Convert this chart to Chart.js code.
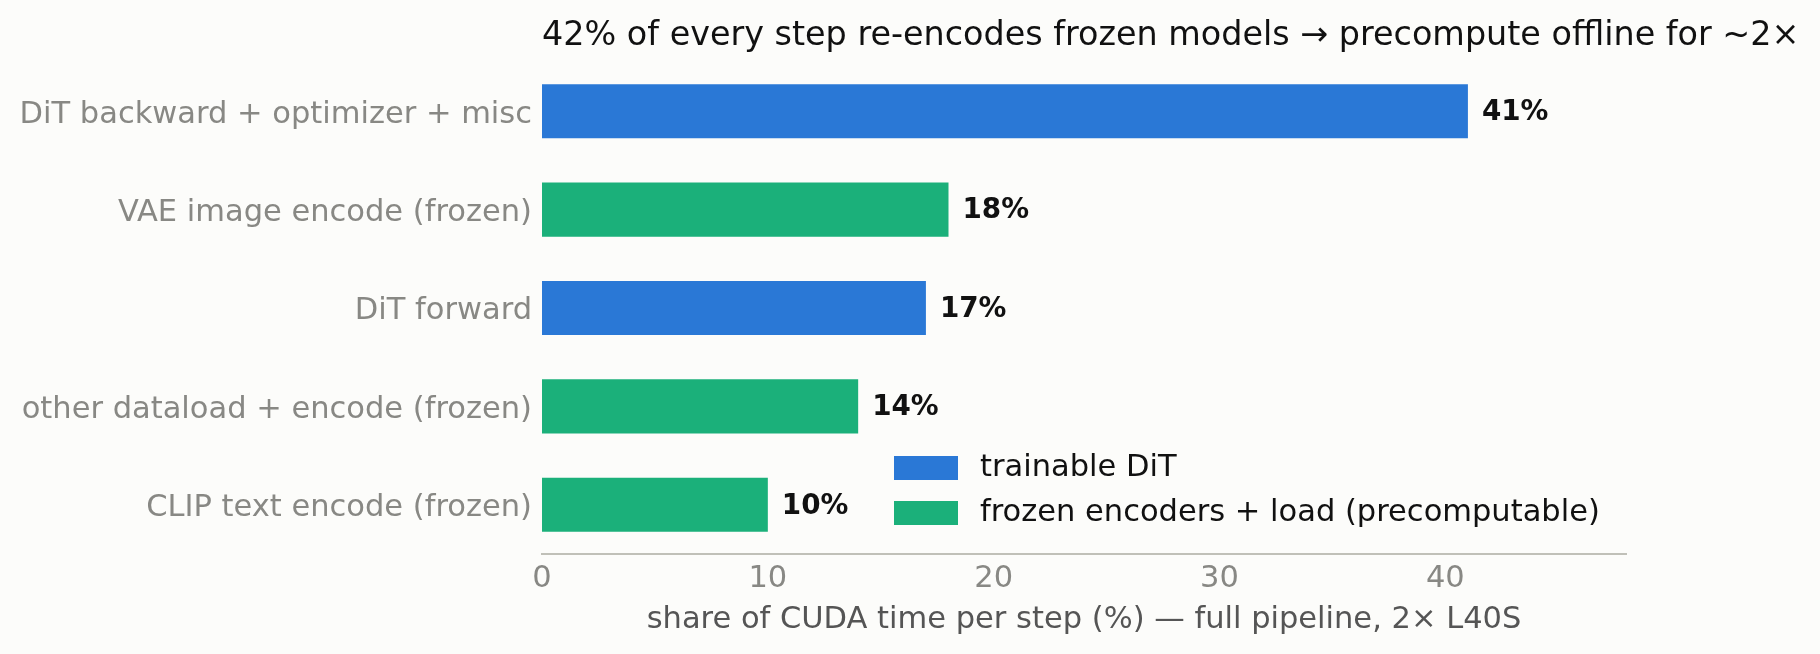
<!DOCTYPE html>
<html>
<head>
<meta charset="utf-8">
<script src="https://cdn.jsdelivr.net/npm/chart.js@4.4.1/dist/chart.umd.min.js"></script>
<style>
  html, body { margin: 0; padding: 0; background: #fcfcfa; }
  #wrap { width: 1820px; height: 654px; }
</style>
</head>
<body>
<div id="wrap"><canvas id="myChart" width="1820" height="654"></canvas></div>
<script>
const categories = [
    'DiT backward + optimizer + misc',
    'VAE image encode (frozen)',
    'DiT forward',
    'other dataload + encode (frozen)',
    'CLIP text encode (frozen)'
];
// null where the row belongs to the other group
const trainableValues = [41, null, 17, null, null];
const frozenValues = [null, 18, null, 14, 10];
const seriesNames = ['trainable DiT', 'frozen encoders + load (precomputable)'];
const xTicks = [0, 10, 20, 30, 40];

const titleText = '42% of every step re-encodes frozen models \u2192 precompute offline for ~2\u00d7';
const xTitle = 'share of CUDA time per step (%) \u2014 full pipeline, 2\u00d7 L40S';

const BLUE = '#2a78d6';
const GREEN = '#1bb07a';
const FONT = "'DejaVu Sans', sans-serif";

// title, value labels and the in-plot legend
const overlay = {
    id: 'overlay',
    afterDatasetsDraw(chart) {
        const { ctx, chartArea } = chart;
        ctx.save();

        ctx.fillStyle = '#111';
        ctx.font = '33.4px ' + FONT;
        ctx.textAlign = 'left';
        ctx.textBaseline = 'middle';
        ctx.fillText(titleText, chartArea.left, 36);

        ctx.font = 'bold 27.8px ' + FONT;
        chart.data.datasets.forEach((ds, i) => {
            const meta = chart.getDatasetMeta(i);
            meta.data.forEach((bar, j) => {
                const v = ds.data[j];
                if (v === null) return;
                ctx.fillText(v + '%', bar.x + 14, bar.y + 1.5);
            });
        });

        ctx.font = '30.5px ' + FONT;
        const lx = 894, ly = 468, gap = 45;
        chart.data.datasets.forEach((ds, i) => {
            const y = ly + i * gap;
            ctx.fillStyle = ds.backgroundColor;
            ctx.fillRect(lx, y - 12, 64, 24);
            ctx.fillStyle = '#111';
            ctx.fillText(ds.label, lx + 86, y);
        });
        ctx.restore();
    }
};

new Chart(document.getElementById('myChart'), {
    type: 'bar',
    data: {
        labels: categories,
        datasets: [
            { label: seriesNames[0], data: trainableValues, backgroundColor: BLUE },
            { label: seriesNames[1], data: frozenValues, backgroundColor: GREEN }
        ]
    },
    plugins: [overlay],
    options: {
        indexAxis: 'y',
        responsive: false,
        animation: false,
        layout: { padding: { top: 62, right: 194, left: 0, bottom: 0 } },
        datasets: {
            bar: { grouped: false, skipNull: true, barPercentage: 0.55, categoryPercentage: 1 }
        },
        plugins: {
            legend: { display: false },
            title: { display: false },
            tooltip: { enabled: false }
        },
        scales: {
            x: {
                min: 0,
                max: 48,
                afterBuildTicks: (scale) => { scale.ticks = xTicks.map(v => ({ value: v })); },
                afterFit: (scale) => { scale.height = 100; },
                grid: { display: false, drawTicks: false },
                border: { display: true, color: '#c0c0b8', width: 2 },
                ticks: { color: '#888884', font: { family: FONT, size: 30.5 }, padding: 7 },
                title: {
                    display: true,
                    text: xTitle,
                    color: '#555555',
                    font: { family: FONT, size: 30.5 },
                    padding: { top: 0, bottom: 16 }
                }
            },
            y: {
                afterFit: (scale) => { scale.width = 542; },
                grid: { display: false, drawTicks: false },
                border: { display: false },
                ticks: { color: '#888884', font: { family: FONT, size: 30.5 }, padding: 10, labelOffset: 3.5 }
            }
        }
    }
});
</script>
</body>
</html>
